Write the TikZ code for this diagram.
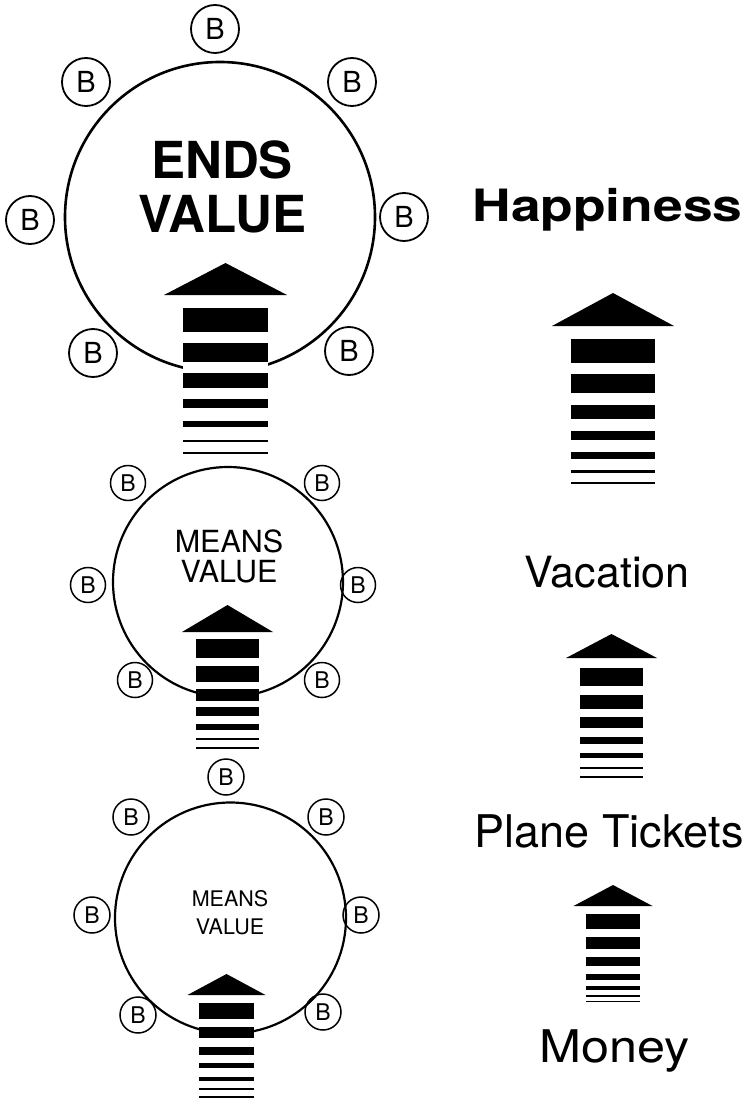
\documentclass[tikz,border=0pt]{standalone}
\usepackage{fontspec}
\setmainfont{TeX Gyre Heros}
\newcommand\fsz[1]{\fontsize{#1}{#1}\selectfont}
% Striped upward arrow: #1 centre x, #2 apex y, #3 head base y,
% #4 head half-width, #5 bar half-width, #6 bar list top/bottom, #7 lowest y
\newcommand\upstack[7]{%
  \fill[white] (#1-#5,#3) rectangle (#1+#5,#7);
  \fill (#1,#2) -- (#1+#4,#3) -- (#1-#4,#3) -- cycle;
  \foreach \tp/\bt in {#6} {\fill (#1-#5,\tp) rectangle (#1+#5,\bt);}
}
\begin{document}
\begin{tikzpicture}[x=1pt,y=-1pt,
  ring/.style={circle, draw, line width=#1, inner sep=0pt},
  bigb/.style={circle, draw, line width=1.8pt, inner sep=0pt, minimum size=48pt, font=\fsz{29}},
  smallb/.style={circle, draw, line width=1.5pt, inner sep=0pt, minimum size=35pt, font=\fsz{23}},
  lbl/.style={anchor=base, inner sep=0pt}]
\useasboundingbox (0,0) rectangle (750,1099);

% ---- top: ends value ----
\node[ring=2.6pt, minimum size=310pt] (ends) at (220,217) {};
\node[lbl, font=\bfseries\fsz{51}] (endsA) at (222,178.5) {ENDS};
\node[lbl, font=\bfseries\fsz{51}] (endsB) at (222,233) {VALUE};
\foreach \n/\px/\py in {e1/215/29, e2/86/82, e3/352/82, e4/30/220, e5/404/217, e6/93/353, e7/349/351}
  \node[bigb] (\n) at (\px,\py) {B};
\upstack{225.5}{263}{295}{61.5}{42.5}{308/332, 343/362, 373/388, 399/408, 421/427, 440/442, 452/454}{454}

% ---- middle: means value ----
\node[ring=2.2pt, minimum size=230pt] (meansA) at (228,582) {};
\node[lbl, font=\fsz{30.5}] (mA1) at (229,552) {MEANS};
\node[lbl, font=\fsz{30.5}] (mA2) at (229,582) {VALUE};
\foreach \n/\px/\py in {m1/128/483, m2/322/483, m3/88/585, m4/358/585, m5/135/680, m6/322/680}
  \node[smallb] (\n) at (\px,\py) {B};
\upstack{227.5}{605}{632}{45.5}{31.5}{639/658, 666/682, 689/701, 707/716, 724/730, 738/740, 747/749}{749}

% ---- bottom: means value ----
\node[ring=2.2pt, minimum size=231pt] (meansB) at (230.5,918) {};
\node[lbl, font=\fsz{21.5}] (mB1) at (230,906.5) {MEANS};
\node[lbl, font=\fsz{21.5}] (mB2) at (230,934.5) {VALUE};
\foreach \n/\px/\py in {b1/226/777, b2/131/817, b3/326/817, b4/92/915, b5/361/915, b6/138/1015, b7/323/1012}
  \node[smallb, minimum size=36pt] (\n) at (\px,\py) {B};
\upstack{226.5}{974}{995}{39}{27.5}{1003/1019, 1027/1038, 1047/1055, 1063/1068, 1077/1081, 1088/1090, 1096/1098}{1098}

% ---- right column: example chain ----
\node[lbl, font=\bfseries\fsz{44.5}, xscale=1.2, transform shape] (happy) at (607.5,222) {Happiness};
\upstack{613}{293}{326}{61}{42}{339/363, 374/393, 405/419, 431/440, 452/459, 470/473, 482/484}{484}
\node[lbl, font=\fsz{43}] (vac) at (607,587) {Vacation};
\upstack{611.5}{634}{658}{45.5}{31.5}{668/686, 695/709, 717/728, 737/744, 753/758, 767/769, 776/777.5}{777.5}
\node[lbl, font=\fsz{45}] (tix) at (609,847) {Plane Tickets};
\upstack{613}{885}{906}{39.5}{27}{914/929, 937/949, 957/966, 974/980, 986/990, 995/997, 1001/1002}{1002}
\node[lbl, font=\fsz{45}, xscale=1.12, transform shape] (money) at (615,1062) {Money};
\end{tikzpicture}
\end{document}
